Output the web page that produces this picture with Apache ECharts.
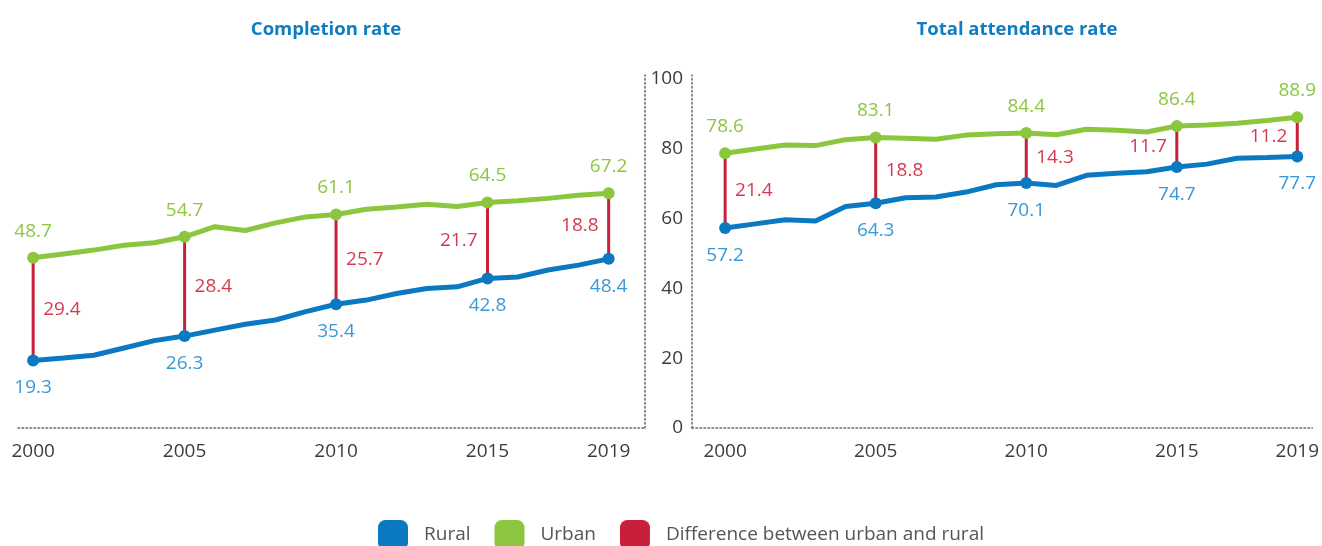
<!DOCTYPE html>
<html>
<head>
<meta charset="utf-8">
<script src="https://cdn.jsdelivr.net/npm/echarts@6/dist/echarts.min.js"></script>
<style>
html, body { margin: 0; padding: 0; background: #fff; }
#chart { width: 1322px; height: 546px; }
</style>
</head>
<body>
<div id="chart"></div>
<script>
var years = [2000, 2001, 2002, 2003, 2004, 2005, 2006, 2007, 2008, 2009,
             2010, 2011, 2012, 2013, 2014, 2015, 2016, 2017, 2018, 2019];
var keyYears = [2000, 2005, 2010, 2015, 2019];
var yTicks = [0, 20, 40, 60, 80, 100];

var completionRural = [19.3, 20.0, 20.8, 22.9, 25.0, 26.3, 28.0, 29.7, 30.9, 33.3,
                       35.4, 36.6, 38.5, 39.9, 40.4, 42.8, 43.2, 45.2, 46.6, 48.4];
var completionUrban = [48.7, 49.8, 50.9, 52.3, 53.0, 54.7, 57.6, 56.5, 58.7, 60.4,
                       61.1, 62.6, 63.2, 64.0, 63.4, 64.5, 65.0, 65.7, 66.6, 67.2];
var completionDiff = [29.4, 28.4, 25.7, 21.7, 18.8];

var attendanceRural = [57.2, 58.4, 59.6, 59.2, 63.4, 64.3, 65.9, 66.1, 67.5, 69.6,
                       70.1, 69.4, 72.3, 72.9, 73.3, 74.7, 75.5, 77.2, 77.4, 77.7];
var attendanceUrban = [78.6, 79.8, 81.0, 80.8, 82.5, 83.1, 82.9, 82.6, 83.8, 84.2,
                       84.4, 83.9, 85.5, 85.2, 84.7, 86.4, 86.7, 87.2, 88.0, 88.9];
var attendanceDiff = [21.4, 18.8, 14.3, 11.7, 11.2];

var FONT = '"Open Sans", "Noto Sans", sans-serif';
var BLUE = '#0a79c1', GREEN = '#8cc63f', RED = '#c8203a';
var BLUE_TXT = '#3a98d8', GREEN_TXT = '#8dc63f', RED_TXT = '#d43a50';

function lineData(vals) {
  return years.map(function (y, i) {
    var key = keyYears.indexOf(y) >= 0;
    return { value: [y, vals[i]], symbolSize: key ? 12 : 0, label: { show: key } };
  });
}

function lineSeries(name, vals, color, txt, pos, idx) {
  return {
    name: name, type: 'line', xAxisIndex: idx, yAxisIndex: idx,
    data: lineData(vals), symbol: 'circle', showAllSymbol: true,
    lineStyle: { color: color, width: 5 }, itemStyle: { color: color },
    label: { position: pos, distance: pos === 'top' ? 11 : 12, color: txt,
             fontSize: 19, fontFamily: FONT,
             formatter: function (p) { return p.value[1].toFixed(1); } },
    emphasis: { disabled: true }, z: 3
  };
}

function diffSeries(urban, rural, diff, idx) {
  return {
    name: 'Difference between urban and rural', type: 'custom',
    xAxisIndex: idx, yAxisIndex: idx, z: 2,
    itemStyle: { color: RED },
    encode: { x: 0, y: 1 },
    data: keyYears.map(function (y, i) {
      return [y, urban[y - 2000], rural[y - 2000], diff[i]];
    }),
    renderItem: function (params, api) {
      var top = api.coord([api.value(0), api.value(1)]);
      var bot = api.coord([api.value(0), api.value(2)]);
      var right = params.dataIndex < 3;
      return {
        type: 'group',
        children: [{
          type: 'line',
          shape: { x1: top[0], y1: top[1], x2: bot[0], y2: bot[1] },
          style: { stroke: RED, lineWidth: 3 }
        }, {
          type: 'text',
          x: top[0] + (right ? 10 : -10), y: (top[1] + bot[1]) / 2,
          style: { text: api.value(3).toFixed(1), fill: RED_TXT,
                   font: '19px ' + FONT,
                   align: right ? 'left' : 'right', verticalAlign: 'middle' }
        }]
      };
    }
  };
}

var dotted = { color: '#666', width: 1.5, type: [1.5, 2.5] };

function xAxis(idx, min, max) {
  return {
    type: 'value', gridIndex: idx, min: min, max: max,
    axisLine: { show: true, lineStyle: dotted },
    axisTick: { show: false }, splitLine: { show: false },
    axisLabel: { customValues: keyYears, color: '#3c3c3c', fontSize: 19,
                 fontFamily: FONT, margin: 14,
                 formatter: function (v) { return String(v); } }
  };
}

function yAxis(idx, pos, labels) {
  return {
    type: 'value', gridIndex: idx, position: pos, min: 0, max: 101,
    axisLine: { show: true, lineStyle: dotted },
    axisTick: { show: false }, splitLine: { show: false },
    axisLabel: { show: labels, customValues: yTicks, color: '#3c3c3c',
                 fontSize: 19, fontFamily: FONT, margin: 9 }
  };
}

var chart = echarts.init(document.getElementById('chart'));
chart.setOption({
  animation: false,
  title: [
    { text: 'Completion rate', left: 321, top: 15, textAlign: 'center',
      textStyle: { color: '#0e7dc2', fontSize: 18.5, fontWeight: 'bold', fontFamily: FONT } },
    { text: 'Total attendance rate', left: 1012, top: 15, textAlign: 'center',
      textStyle: { color: '#0e7dc2', fontSize: 18.5, fontWeight: 'bold', fontFamily: FONT } }
  ],
  legend: {
    left: 378, top: 520, padding: 0, itemWidth: 30, itemHeight: 30, itemGap: 24,
    icon: 'roundRect',
    data: ['Rural', 'Urban', 'Difference between urban and rural'],
    textStyle: { color: '#555', fontSize: 19, fontFamily: FONT, padding: [8, 0, 0, 11] }
  },
  grid: [
    { left: 18, right: 677, top: 75, bottom: 118 },
    { left: 692, right: 7, top: 75, bottom: 118 }
  ],
  xAxis: [xAxis(0, 1999.5, 2020.2), xAxis(1, 1998.9, 2019.5)],
  yAxis: [yAxis(0, 'right', false), yAxis(1, 'left', true)],
  series: [
    diffSeries(completionUrban, completionRural, completionDiff, 0),
    lineSeries('Rural', completionRural, BLUE, BLUE_TXT, 'bottom', 0),
    lineSeries('Urban', completionUrban, GREEN, GREEN_TXT, 'top', 0),
    diffSeries(attendanceUrban, attendanceRural, attendanceDiff, 1),
    lineSeries('Rural', attendanceRural, BLUE, BLUE_TXT, 'bottom', 1),
    lineSeries('Urban', attendanceUrban, GREEN, GREEN_TXT, 'top', 1)
  ]
});
</script>
</body>
</html>
